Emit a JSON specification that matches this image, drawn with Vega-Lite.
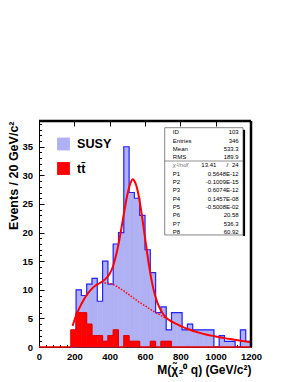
{
  "$schema": "https://vega.github.io/schema/vega-lite/v6.json",
  "width": 212,
  "height": 226,
  "autosize": "none",
  "padding": {"left": 39, "top": 121, "right": 33, "bottom": 35},
  "background": "white",
  "config": {
    "view": {"stroke": "black", "strokeWidth": 1},
    "font": "Liberation Sans",
    "axis": {"labelFont": "Liberation Sans", "titleFont": "Liberation Sans", "labelColor": "black", "titleColor": "black", "tickCount": 200}
  },
  "datasets": {
    "susy": [
      {"lo": 180, "hi": 210, "n": 0}, {"lo": 210, "hi": 240, "n": 10}, {"lo": 240, "hi": 270, "n": 9},
      {"lo": 270, "hi": 300, "n": 11}, {"lo": 300, "hi": 330, "n": 12}, {"lo": 330, "hi": 360, "n": 8},
      {"lo": 360, "hi": 390, "n": 15}, {"lo": 390, "hi": 420, "n": 11}, {"lo": 420, "hi": 450, "n": 18},
      {"lo": 450, "hi": 480, "n": 20}, {"lo": 480, "hi": 510, "n": 35}, {"lo": 510, "hi": 540, "n": 27},
      {"lo": 540, "hi": 570, "n": 26}, {"lo": 570, "hi": 600, "n": 23}, {"lo": 600, "hi": 630, "n": 17},
      {"lo": 630, "hi": 660, "n": 13}, {"lo": 660, "hi": 690, "n": 6}, {"lo": 690, "hi": 720, "n": 7},
      {"lo": 720, "hi": 750, "n": 3}, {"lo": 750, "hi": 780, "n": 6}, {"lo": 780, "hi": 810, "n": 6},
      {"lo": 810, "hi": 840, "n": 3}, {"lo": 840, "hi": 870, "n": 4}, {"lo": 870, "hi": 900, "n": 3},
      {"lo": 900, "hi": 930, "n": 3}, {"lo": 930, "hi": 960, "n": 3}, {"lo": 960, "hi": 990, "n": 3},
      {"lo": 990, "hi": 1020, "n": 0}, {"lo": 1020, "hi": 1050, "n": 2}, {"lo": 1050, "hi": 1080, "n": 1},
      {"lo": 1080, "hi": 1110, "n": 1}, {"lo": 1110, "hi": 1140, "n": 0}, {"lo": 1140, "hi": 1170, "n": 3},
      {"lo": 1170, "hi": 1200, "n": 1}, {"lo": 1200, "hi": 1200, "n": 0}
    ],
    "tt": [
      {"lo": 0, "hi": 180, "n": 0}, {"lo": 180, "hi": 210, "n": 3}, {"lo": 210, "hi": 240, "n": 6},
      {"lo": 240, "hi": 270, "n": 6}, {"lo": 270, "hi": 300, "n": 4}, {"lo": 300, "hi": 330, "n": 2},
      {"lo": 330, "hi": 360, "n": 2}, {"lo": 360, "hi": 390, "n": 1}, {"lo": 390, "hi": 420, "n": 2},
      {"lo": 420, "hi": 450, "n": 3}, {"lo": 450, "hi": 480, "n": 0}, {"lo": 480, "hi": 510, "n": 2},
      {"lo": 510, "hi": 540, "n": 1}, {"lo": 540, "hi": 570, "n": 1}, {"lo": 570, "hi": 600, "n": 0},
      {"lo": 600, "hi": 630, "n": 0}, {"lo": 630, "hi": 660, "n": 1}, {"lo": 660, "hi": 690, "n": 0},
      {"lo": 690, "hi": 720, "n": 1}, {"lo": 720, "hi": 750, "n": 1}, {"lo": 750, "hi": 1200, "n": 0},
      {"lo": 1200, "hi": 1200, "n": 0}
    ],
    "fit": [
      {"m": 190, "f": 3.7}, {"m": 200, "f": 4.6}, {"m": 210, "f": 5.5}, {"m": 220, "f": 6.2},
      {"m": 230, "f": 6.9}, {"m": 240, "f": 7.5}, {"m": 260, "f": 8.6}, {"m": 280, "f": 9.5},
      {"m": 300, "f": 10.2}, {"m": 320, "f": 10.75}, {"m": 340, "f": 11.1}, {"m": 360, "f": 11.5},
      {"m": 380, "f": 12.0}, {"m": 400, "f": 12.8}, {"m": 420, "f": 14.2}, {"m": 440, "f": 16.5},
      {"m": 460, "f": 19.6}, {"m": 480, "f": 23.2}, {"m": 500, "f": 26.6}, {"m": 520, "f": 28.8},
      {"m": 530, "f": 29.3}, {"m": 540, "f": 29.0}, {"m": 560, "f": 27.1}, {"m": 580, "f": 23.5},
      {"m": 600, "f": 19.1}, {"m": 620, "f": 14.8}, {"m": 640, "f": 11.2}, {"m": 660, "f": 8.7},
      {"m": 680, "f": 7.0}, {"m": 700, "f": 5.9}, {"m": 720, "f": 5.1}, {"m": 740, "f": 4.65},
      {"m": 760, "f": 4.3}, {"m": 780, "f": 4.0}, {"m": 800, "f": 3.7}, {"m": 850, "f": 3.05},
      {"m": 900, "f": 2.55}, {"m": 950, "f": 2.15}, {"m": 1000, "f": 1.85}, {"m": 1050, "f": 1.55},
      {"m": 1100, "f": 1.3}, {"m": 1150, "f": 1.05}, {"m": 1200, "f": 0.85}
    ],
    "bkg": [
      {"m": 370, "f": 11.2}, {"m": 380, "f": 11.2}, {"m": 400, "f": 11.1}, {"m": 420, "f": 10.9},
      {"m": 440, "f": 10.6}, {"m": 460, "f": 10.2}, {"m": 480, "f": 9.8}, {"m": 500, "f": 9.35},
      {"m": 520, "f": 8.9}, {"m": 540, "f": 8.45}, {"m": 560, "f": 8.0}, {"m": 580, "f": 7.6},
      {"m": 600, "f": 7.2}, {"m": 620, "f": 6.8}, {"m": 640, "f": 6.4}, {"m": 660, "f": 6.05},
      {"m": 680, "f": 5.7}, {"m": 700, "f": 5.35}, {"m": 720, "f": 4.95}
    ],
    "stats": [
      {"row": 0, "label": "ID", "value": "103"},
      {"row": 1, "label": "Entries", "value": "346"},
      {"row": 2, "label": "Mean", "value": "533.3"},
      {"row": 3, "label": "RMS", "value": "189.9"},
      {"row": 4, "label": "χ²/ndf", "value": "24", "mid": "13.41", "sep": "/"},
      {"row": 5, "label": "P1", "value": "0.5648E-12"},
      {"row": 6, "label": "P2", "value": "-0.1009E-15"},
      {"row": 7, "label": "P3", "value": "0.6074E-12"},
      {"row": 8, "label": "P4", "value": "0.1457E-08"},
      {"row": 9, "label": "P5", "value": "-0.5008E-02"},
      {"row": 10, "label": "P6", "value": "20.58"},
      {"row": 11, "label": "P7", "value": "536.3"},
      {"row": 12, "label": "P8", "value": "60.92"}
    ]
  },
  "layer": [
    {
      "layer": [
        {
          "data": {"name": "susy"},
          "mark": {"type": "rect", "stroke": "#b0b0f4", "strokeWidth": 0.6},
          "encoding": {
            "x": {
              "field": "lo", "type": "quantitative",
              "scale": {"domain": [0, 1200], "nice": false, "zero": false},
              "axis": {
                "orient": "bottom",
                "values": [0, 200, 400, 600, 800, 1000, 1200],
                "tickCount": 200,
                "format": "d",
                "ticks": false,
                "grid": true, "gridColor": "black", "gridOpacity": 1, "gridWidth": 1, "gridDash": [5, 1000],
                "domain": false,
                "labelFontWeight": "bold", "labelFontSize": 9.5, "labelPadding": 4,
                "labelFlush": false, "labelOverlap": false,
                "title": "M(χ̃₂⁰ q) (GeV/c²)", "titleAnchor": "end", "titleFontSize": 12,
                "titleFontWeight": "bold", "titlePadding": 4
              }
            },
            "x2": {"field": "hi"},
            "y": {
              "field": "n", "type": "quantitative",
              "scale": {"domain": [0, 39.5], "nice": false, "zero": true},
              "axis": {
                "orient": "left",
                "values": [0, 5, 10, 15, 20, 25, 30, 35],
                "tickCount": 200,
                "format": "d",
                "ticks": false,
                "grid": true, "gridColor": "black", "gridOpacity": 1, "gridWidth": 1, "gridDash": [5, 1000],
                "domain": false,
                "labelFontWeight": "bold", "labelFontSize": 9.5, "labelPadding": 6.5,
                "labelFlush": false, "labelOverlap": false,
                "title": "Events / 20 GeV/c²", "titleAnchor": "end", "titleFontSize": 12.5,
                "titleFontWeight": "bold", "titlePadding": 1
              }
            },
            "y2": {"datum": 0},
            "color": {
              "datum": "SUSY", "type": "nominal",
              "scale": {"domain": ["SUSY", "tt̄"], "range": ["#b0b0f4", "#ff0000"]},
              "legend": {
                "orient": "none", "legendX": 18, "legendY": 16.5, "title": null,
                "symbolType": "square", "symbolSize": 165, "symbolStrokeWidth": 0, "symbolOpacity": 1,
                "labelFont": "Liberation Sans", "labelFontSize": 12.6, "labelFontWeight": "bold",
                "labelColor": "black", "labelOffset": 7, "rowPadding": 10.5, "padding": 0
              }
            }
          }
        },
        {
          "data": {"name": "susy"},
          "mark": {"type": "line", "interpolate": "step-after", "color": "#2424ff", "strokeWidth": 1.2},
          "encoding": {
            "x": {"field": "lo", "type": "quantitative"},
            "y": {"field": "n", "type": "quantitative"}
          }
        },
        {
          "data": {"name": "tt"},
          "mark": {"type": "rect", "stroke": "#ff0000", "strokeWidth": 0.6},
          "encoding": {
            "x": {"field": "lo", "type": "quantitative"},
            "x2": {"field": "hi"},
            "y": {"field": "n", "type": "quantitative"},
            "y2": {"datum": 0},
            "color": {"datum": "tt̄", "type": "nominal"}
          }
        },
        {
          "data": {"name": "tt"},
          "mark": {"type": "line", "interpolate": "step-after", "color": "#e00000", "strokeWidth": 1},
          "encoding": {
            "x": {"field": "lo", "type": "quantitative"},
            "y": {"field": "n", "type": "quantitative"}
          }
        },
        {
          "data": {"name": "bkg"},
          "mark": {"type": "line", "color": "#ff0000", "strokeWidth": 1.5, "strokeDash": [1.5, 1.5], "interpolate": "monotone"},
          "encoding": {
            "x": {"field": "m", "type": "quantitative"},
            "y": {"field": "f", "type": "quantitative"}
          }
        },
        {
          "data": {"name": "fit"},
          "mark": {"type": "line", "color": "#ff0000", "strokeWidth": 2, "interpolate": "monotone"},
          "encoding": {
            "x": {"field": "m", "type": "quantitative"},
            "y": {"field": "f", "type": "quantitative"}
          }
        }
      ]
    },
    {
      "data": {"values": [{}]},
      "layer": [
        {
          "mark": {"type": "rule", "color": "black", "strokeWidth": 2.5},
          "encoding": {
            "y": {
              "datum": 39.5, "type": "quantitative",
              "scale": {"domain": [0, 39.5], "nice": false, "zero": true},
              "axis": {
                "orient": "left",
                "values": [1, 2, 3, 4, 6, 7, 8, 9, 11, 12, 13, 14, 16, 17, 18, 19, 21, 22, 23, 24, 26, 27, 28, 29, 31, 32, 33, 34, 36, 37, 38, 39],
                "tickCount": 200,
                "labels": false, "ticks": false, "domain": false, "title": null,
                "grid": true, "gridColor": "black", "gridOpacity": 1, "gridWidth": 1, "gridDash": [2.5, 1000]
              }
            }
          }
        },
        {
          "mark": {"type": "rule", "color": "black", "strokeWidth": 2.5},
          "encoding": {
            "x": {
              "datum": 1200, "type": "quantitative",
              "scale": {"domain": [0, 1200], "nice": false, "zero": false},
              "axis": {
                "orient": "bottom",
                "values": [40, 80, 120, 160, 240, 280, 320, 360, 440, 480, 520, 560, 640, 680, 720, 760, 840, 880, 920, 960, 1040, 1080, 1120, 1160],
                "tickCount": 200,
                "labels": false, "ticks": false, "domain": false, "title": null,
                "grid": true, "gridColor": "black", "gridOpacity": 1, "gridWidth": 1, "gridDash": [2.5, 1000]
              }
            }
          }
        }
      ]
    },
    {
      "layer": [
        {
          "data": {"values": [{}]},
          "mark": {"type": "rect", "fill": "white", "stroke": "#333333", "strokeWidth": 0.6},
          "encoding": {
            "x": {"datum": 711.5, "type": "quantitative", "scale": {"domain": [0, 1200], "nice": false, "zero": false}, "axis": null},
            "x2": {"datum": 1154.7},
            "y": {"datum": -0.554, "type": "quantitative", "scale": {"domain": [-1.361, 25.867], "reverse": true, "nice": false, "zero": false}, "axis": null},
            "y2": {"datum": 12.37}
          }
        },
        {
          "data": {"values": [{}]},
          "mark": {"type": "rule", "color": "black", "strokeWidth": 2},
          "encoding": {
            "x": {"datum": 1161},
            "y": {"datum": -0.3},
            "y2": {"datum": 12.5}
          }
        },
        {
          "data": {"values": [{}]},
          "mark": {"type": "rule", "color": "#444444", "strokeWidth": 0.6},
          "encoding": {
            "x": {"datum": 711.5},
            "x2": {"datum": 1154.7},
            "y": {"datum": 3.46}
          }
        },
        {
          "data": {"name": "stats"},
          "transform": [{"filter": "datum.row !== 4"}],
          "mark": {"type": "text", "align": "left", "baseline": "middle", "font": "Liberation Sans", "fontSize": 6, "color": "black"},
          "encoding": {
            "x": {"datum": 757.7},
            "y": {"field": "row", "type": "quantitative"},
            "text": {"field": "label"}
          }
        },
        {
          "data": {"name": "stats"},
          "transform": [{"filter": "datum.row === 4"}],
          "mark": {"type": "text", "align": "left", "baseline": "middle", "font": "Liberation Sans", "fontSize": 6, "fontStyle": "italic", "color": "#777777"},
          "encoding": {
            "x": {"datum": 757.7},
            "y": {"field": "row", "type": "quantitative"},
            "text": {"field": "label"}
          }
        },
        {
          "data": {"name": "stats"},
          "mark": {"type": "text", "align": "right", "baseline": "middle", "font": "Liberation Sans", "fontSize": 6, "color": "black"},
          "encoding": {
            "x": {"datum": 1130.4},
            "y": {"field": "row", "type": "quantitative"},
            "text": {"field": "value"}
          }
        },
        {
          "data": {"name": "stats"},
          "transform": [{"filter": "datum.row === 4"}],
          "mark": {"type": "text", "align": "right", "baseline": "middle", "font": "Liberation Sans", "fontSize": 6, "color": "black"},
          "encoding": {
            "x": {"datum": 1004},
            "y": {"field": "row", "type": "quantitative"},
            "text": {"field": "mid"}
          }
        },
        {
          "data": {"name": "stats"},
          "transform": [{"filter": "datum.row === 4"}],
          "mark": {"type": "text", "align": "center", "baseline": "middle", "font": "Liberation Sans", "fontSize": 6, "color": "black"},
          "encoding": {
            "x": {"datum": 1066},
            "y": {"field": "row", "type": "quantitative"},
            "text": {"field": "sep"}
          }
        }
      ]
    }
  ],
  "resolve": {"scale": {"x": "independent", "y": "independent"}}
}
